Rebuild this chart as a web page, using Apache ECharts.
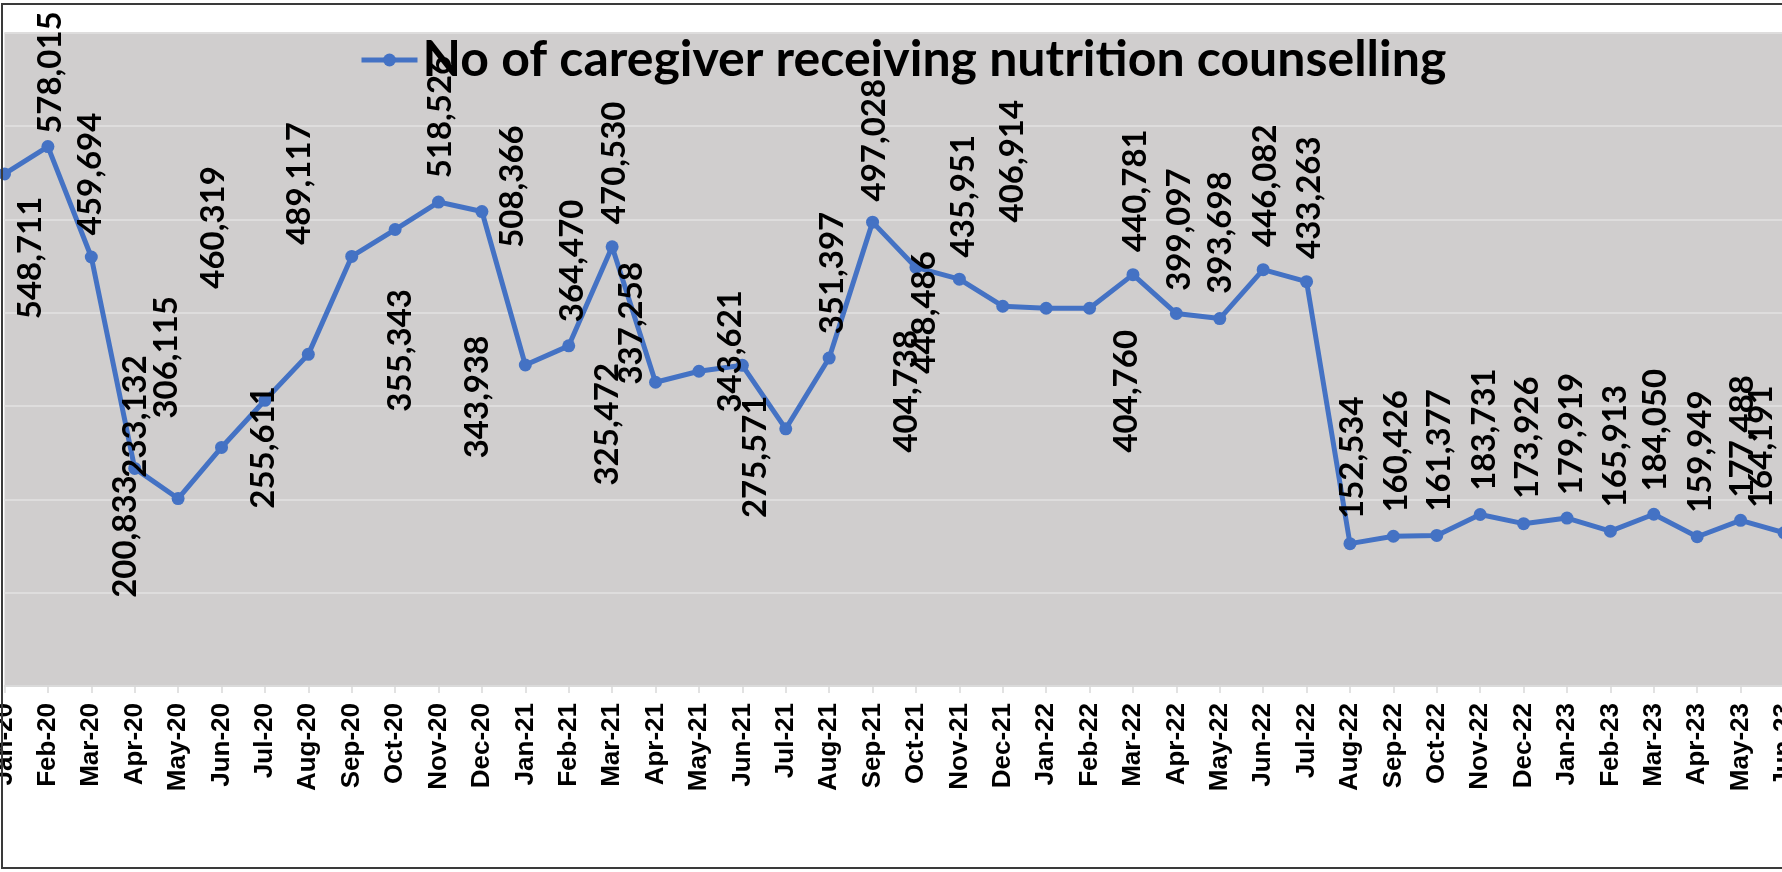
<!DOCTYPE html>
<html>
<head>
<meta charset="utf-8">
<script src="https://cdn.jsdelivr.net/npm/echarts@6/dist/echarts.min.js"></script>
<style>
  html, body { margin: 0; padding: 0; background: #fff; }
  #chart { width: 1782px; height: 872px; }
</style>
</head>
<body>
<div id="chart"></div>
<script>
// months shown on the category axis
const months = [
  'Jan-20', 'Feb-20', 'Mar-20', 'Apr-20', 'May-20', 'Jun-20', 'Jul-20', 'Aug-20', 'Sep-20', 'Oct-20', 'Nov-20', 'Dec-20',
  'Jan-21', 'Feb-21', 'Mar-21', 'Apr-21', 'May-21', 'Jun-21', 'Jul-21', 'Aug-21', 'Sep-21', 'Oct-21', 'Nov-21', 'Dec-21',
  'Jan-22', 'Feb-22', 'Mar-22', 'Apr-22', 'May-22', 'Jun-22', 'Jul-22', 'Aug-22', 'Sep-22', 'Oct-22', 'Nov-22', 'Dec-22',
  'Jan-23', 'Feb-23', 'Mar-23', 'Apr-23', 'May-23', 'Jun-23'
];

// No of caregiver receiving nutrition counselling
const caregivers = [
  548711, 578015, 459694, 233132, 200833, 255611, 306115, 355343, 460319, 489117, 518526, 508366,
  343938, 364470, 470530, 325472, 337258, 343621, 275571, 351397, 497028, 448486, 435951, 406914,
  404738, 404760, 440781, 399097, 393698, 446082, 433263, 152534, 160426, 161377, 183731, 173926,
  179919, 165913, 184050, 159949, 177488, 164191
];

const seriesName = 'No of caregiver receiving nutrition counselling';

// hand placed data labels: pixel shift of the label centre from its point (like the original)
const labelShift = [
  [26, 84], [2, -74], [-1, -83], [1, -52], [-53, 38], [42, 0], [-99, -43], [92, -4], [-138, -29], [-96, -46], [2, -85], [30, -25],
  [-48, 32], [4, -85], [2, -84], [-48, 42], [-68, -48], [-12, -14], [-30, 28], [3, -85], [2, -82], [8, 45], [4, -83], [10, -145],
  [-140, 83], [37, 83], [2, -84], [3, -84], [1, -86], [2, -84], [3, -84], [2, -86], [3, -85], [3, -85], [4, -85], [4, -86],
  [4, -84], [5, -85], [2, -84], [3, -85], [2, -84], [-23, -86]
];

const chart = echarts.init(document.getElementById('chart'));

const option = {
  backgroundColor: '#fff',
  animation: false,
  graphic: [{
    type: 'rect',
    z: 100,
    silent: true,
    shape: {x: 2, y: 4, width: 1820, height: 864},
    style: {fill: 'none', stroke: '#3a3a3a', lineWidth: 2}
  }],
  legend: {
    data: [seriesName],
    left: 359,
    top: 35,
    padding: 0,
    itemWidth: 56,
    itemHeight: 16,
    lineStyle: {width: 5},
    textStyle: {
      fontFamily: 'Lato',
      fontWeight: 'bold',
      fontSize: 50,
      color: '#000'
    }
  },
  grid: {
    left: 4.5,
    right: -2,
    top: 32.7,
    bottom: 186,
    outerBoundsMode: 'none',
    containLabel: false,
    show: true,
    backgroundColor: '#D0CECE',
    borderWidth: 0
  },
  xAxis: {
    type: 'category',
    data: months,
    boundaryGap: false,
    axisLine: {lineStyle: {color: '#D9D9D9', width: 1.5}},
    axisTick: {show: true, length: 7, lineStyle: {color: '#D9D9D9', width: 1.5}},
    axisLabel: {
      interval: 0,
      rotate: 90,
      margin: 17,
      showMinLabel: true,
      showMaxLabel: true,
      fontFamily: 'Liberation Sans',
      fontWeight: 'bold',
      fontSize: 26,
      color: '#000'
    }
  },
  yAxis: {
    type: 'value',
    min: 0,
    max: 700000,
    interval: 100000,
    axisLabel: {show: false},
    axisLine: {show: false},
    axisTick: {show: false},
    splitLine: {lineStyle: {color: '#DEDDDD', width: 2}}
  },
  series: [{
    name: seriesName,
    type: 'line',
    data: caregivers,
    symbol: 'circle',
    symbolSize: 13,
    clip: false,
    lineStyle: {color: '#4472C4', width: 5},
    itemStyle: {color: '#4472C4'},
    label: {
      show: true,
      position: 'inside',
      rotate: 90,
      align: 'center',
      verticalAlign: 'middle',
      fontFamily: 'Lato',
      fontWeight: 'bold',
      fontSize: 33,
      color: '#000',
      formatter: (p) => p.value.toLocaleString('en-US')
    },
    labelLayout: (params) => {
      const s = labelShift[params.dataIndex] || [0, 0];
      const r = params.rect;
      return {
        x: r.x + r.width / 2 + s[0],
        y: r.y + r.height / 2 + s[1],
        align: 'center',
        verticalAlign: 'middle'
      };
    }
  }]
};

chart.setOption(option);
</script>
</body>
</html>
